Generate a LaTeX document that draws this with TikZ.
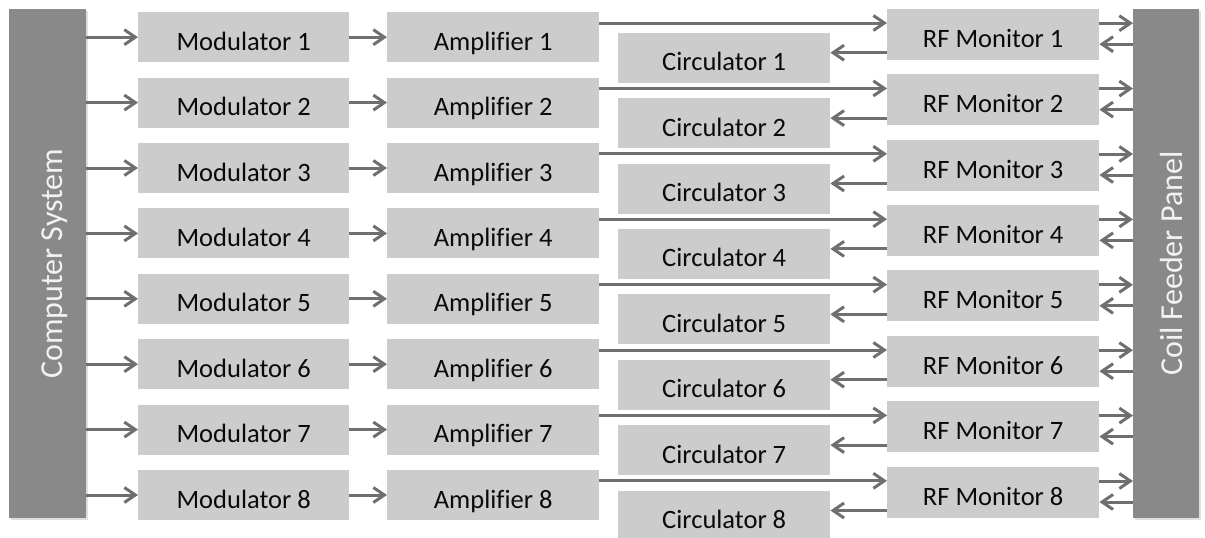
\documentclass[tikz,border=0pt]{standalone}
\usepackage{fontspec}
\setmainfont[Ligatures=NoCommon]{Carlito}
\usetikzlibrary{arrows.meta,shadows,calc}
\definecolor{boxgray}{HTML}{CCCCCC}
\definecolor{bargray}{HTML}{898989}
\definecolor{arrowgray}{HTML}{6F6F6F}
\definecolor{labeltext}{HTML}{0A0A0A}
\begin{document}
\begin{tikzpicture}[x=1pt,y=-1pt,
  blk/.style={fill=boxgray, minimum width=211pt, minimum height=50pt, inner sep=0pt,
    text height=26pt, text depth=0pt, font=\fontsize{26.5}{30}\selectfont,
    text=labeltext, anchor=north west},
  sidebar/.style={fill=bargray, inner sep=0pt, anchor=north west,
    drop shadow={opacity=0.25, shadow xshift=2pt, shadow yshift=-2pt}},
  bartext/.style={rotate=90, text=white!95!black, inner sep=0pt,
    font=\fontsize{32}{36}\selectfont, text depth=0pt},
  conn/.style={draw=arrowgray, line width=3pt, -{Straight Barb[length=11pt,width=15pt]}}]
\useasboundingbox (0,0) rectangle (1205,538);
\node[sidebar, minimum width=77pt, minimum height=509pt] (comp) at (9,9) {};
\node[sidebar, minimum width=66pt, minimum height=509pt] (coil) at (1133,9) {};
\node[bartext, text height=29pt] (comptext) at (comp.center) {Computer System};
\node[bartext, text height=33pt] (coiltext) at (coil.center) {Coil Feeder Panel};
\foreach \i in {1,...,8} {
  \pgfmathsetmacro\yt{12+65.4*(\i-1)}
  \node[blk] (m\i) at (138,\yt) {Modulator \i};
  \node[blk, minimum width=212pt] (a\i) at (387,\yt) {Amplifier \i};
  \node[blk, minimum width=212pt] (c\i) at (618,\yt+20.5) {Circulator \i};
  \node[blk, minimum width=212pt, minimum height=51pt] (r\i) at (887,\yt-3.5) {RF Monitor \i};
  \coordinate (ca\i) at ($(a\i.north east)+(0,11)$);
  \coordinate (cc\i) at ($(c\i.east)+(0,-5)$);
  \coordinate (co\i) at ($(r\i.east)+(0,-11)$);
  \coordinate (ci\i) at ($(r\i.east)+(0,10)$);
  \draw[conn] (comp.east |- m\i.west) -- (m\i.west);
  \draw[conn] (m\i.east) -- (a\i.west);
  \draw[conn] (ca\i) -- (r\i.west |- ca\i);
  \draw[conn] (r\i.west |- cc\i) -- (cc\i);
  \draw[conn] (co\i) -- (coil.west |- co\i);
  \draw[conn] (coil.west |- ci\i) -- (ci\i);
}
\end{tikzpicture}
\end{document}
